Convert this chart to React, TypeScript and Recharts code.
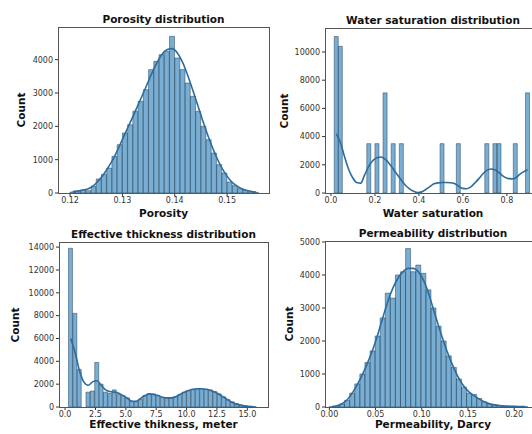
import { Bar, ComposedChart, Line, XAxis, YAxis } from 'recharts';

// porosity histogram (bin start, bin width, counts per bin, kde per bin centre)
const porosityStart = 0.12;
const porosityWidth = 0.001;
const porosityCounts = [30, 60, 90, 70, 200, 420, 560, 750, 1100, 1450, 1800, 2050, 2450, 2750, 3100, 3700, 3950, 4150, 4250, 4700, 4050, 3700, 3300, 2900, 2450, 2000, 1600, 1200, 850, 600, 330, 220, 130, 80, 40, 20];
const porosityKde = [40, 60, 90, 130, 220, 380, 580, 820, 1100, 1430, 1780, 2120, 2470, 2820, 3180, 3550, 3880, 4150, 4300, 4330, 4200, 3920, 3520, 3060, 2580, 2100, 1650, 1250, 900, 620, 400, 250, 150, 90, 50, 25];
const porosityTicks = [0.12, 0.13, 0.14, 0.15];

// water saturation
const satStart = 0.015;
const satWidth = 0.0185;
const satCounts = [11100, 10400, 0, 0, 0, 0, 0, 0, 3500, 0, 3500, 0, 7100, 0, 3500, 0, 3500, 0, 0, 0, 0, 0, 0, 0, 0, 0, 3500, 0, 0, 0, 3500, 0, 0, 0, 0, 0, 0, 3500, 0, 3500, 3500, 0, 0, 0, 3500, 0, 0, 7100];
const satKde = [4200, 3600, 2600, 1700, 1100, 750, 700, 1300, 1900, 2300, 2500, 2550, 2400, 2100, 1700, 1300, 900, 550, 300, 120, 30, 80, 250, 450, 650, 720, 740, 740, 730, 680, 500, 330, 300, 420, 700, 1000, 1350, 1600, 1700, 1650, 1450, 1200, 1050, 1000, 1050, 1300, 1500, 1650];
const satTicks = [0, 0.2, 0.4, 0.6, 0.8];

// effective thickness
const thickStart = 0.28;
const thickWidth = 0.36;
const thickCounts = [13900, 8200, 3300, 0, 1300, 1400, 3900, 2000, 1300, 1200, 1500, 1100, 1000, 800, 500, 450, 700, 1000, 1150, 1150, 1000, 850, 800, 750, 900, 1100, 1300, 1450, 1550, 1600, 1600, 1550, 1500, 1350, 1150, 900, 650, 450, 300, 180, 100, 60, 30];
const thickKde = [6000, 4800, 3200, 2200, 1900, 2200, 2300, 1900, 1500, 1350, 1300, 1200, 1000, 750, 500, 500, 750, 1000, 1150, 1100, 1000, 850, 800, 800, 900, 1100, 1300, 1450, 1550, 1600, 1600, 1550, 1450, 1300, 1100, 850, 600, 400, 250, 150, 80, 40, 20];
const thickTicks = [0, 2.5, 5, 7.5, 10, 12.5, 15];

// permeability
const permStart = 0;
const permWidth = 0.0055;
const permCounts = [10, 30, 90, 200, 420, 700, 1000, 1350, 1700, 2150, 2700, 3450, 3300, 4000, 4100, 4800, 4100, 4300, 4050, 3550, 3000, 2450, 2000, 1550, 1200, 850, 600, 420, 380, 260, 150, 90, 60, 45, 35, 25, 20, 15, 10];
const permKde = [15, 40, 100, 220, 420, 680, 980, 1330, 1720, 2180, 2700, 3200, 3600, 3900, 4100, 4200, 4200, 4100, 3850, 3450, 2950, 2450, 1980, 1550, 1180, 860, 620, 450, 340, 240, 160, 100, 65, 45, 32, 24, 18, 13, 10];
const permTicks = [0, 0.05, 0.1, 0.15, 0.2];

const buildRows = (start: number, width: number, counts: number[], kde: number[]) =>
  counts.map((c, i) => ({ x: start + width * (i + 0.5), count: c, kde: kde[i] }));

const FONT = '"DejaVu Sans", sans-serif';

type PanelProps = {
  box: [number, number, number, number];
  plot: [number, number, number, number];
  rows: { x: number; count: number; kde: number }[];
  xDomain: [number, number];
  xTicks: number[];
  digits: number;
  yMax: number;
  yTicks: number[];
  title: string;
  xLabel: string;
  xLabelY: number;
  yLabelX: number;
};

function Panel(p: PanelProps) {
  const [bx, by, bw, bh] = p.box;
  const [l, t, r, b] = p.plot;
  const margin = { left: 0, top: t - by, right: bx + bw - r, bottom: 0 };
  const cx = (l + r) / 2;
  return (
    <>
      <div style={{ position: 'absolute', left: bx, top: by }}>
        <ComposedChart width={bw} height={bh} data={p.rows} margin={margin} barCategoryGap={0} barGap={0}>
          <XAxis
            type="number"
            dataKey="x"
            domain={p.xDomain}
            ticks={p.xTicks}
            interval={0}
            allowDataOverflow
            height={by + bh - b}
            axisLine={false}
            tickLine={{ stroke: '#333' }}
            tickSize={3}
            tickMargin={1}
            tick={{ fontSize: 8, fill: '#333', fontFamily: FONT }}
            tickFormatter={(v: number) => v.toFixed(p.digits)}
          />
          <YAxis
            type="number"
            domain={[0, p.yMax]}
            ticks={p.yTicks}
            interval={0}
            allowDataOverflow
            width={l - bx}
            axisLine={false}
            tickLine={{ stroke: '#333' }}
            tickSize={3}
            tickMargin={2}
            tick={{ fontSize: 8, fill: '#333', fontFamily: FONT }}
          />
          <Bar dataKey="count" fill="#1f77b4" fillOpacity={0.6} stroke="#22405a" strokeWidth={0.5} isAnimationActive={false} />
          <Line dataKey="kde" type="monotone" stroke="#2b6c9f" strokeWidth={1.6} dot={false} isAnimationActive={false} />
        </ComposedChart>
      </div>
      <div
        style={{
          position: 'absolute',
          left: l,
          top: t,
          width: r - l + 1,
          height: b - t + 1,
          border: '1px solid #555',
          boxSizing: 'border-box',
          pointerEvents: 'none',
        }}
      />
      <div style={{ ...labelStyle, left: cx, top: t - 8 }}>{p.title}</div>
      <div style={{ ...labelStyle, left: cx, top: p.xLabelY }}>{p.xLabel}</div>
      <div style={{ ...labelStyle, left: p.yLabelX, top: (t + b) / 2, transform: 'translate(-50%, -50%) rotate(-90deg)' }}>Count</div>
    </>
  );
}

const labelStyle: React.CSSProperties = {
  position: 'absolute',
  transform: 'translate(-50%, -50%)',
  whiteSpace: 'nowrap',
  fontFamily: FONT,
  fontWeight: 'bold',
  fontSize: 10.5,
  color: '#111',
  lineHeight: 1,
};

export default function App() {
  return (
    <div style={{ position: 'absolute', left: 0, top: 0, width: 532, height: 434, overflow: 'hidden', background: '#fff' }}>
      <Panel
        box={[0, 0, 270, 217]}
        plot={[58, 27, 269, 193]}
        rows={buildRows(porosityStart, porosityWidth, porosityCounts, porosityKde)}
        xDomain={[0.1177, 0.158]}
        xTicks={porosityTicks}
        digits={2}
        yMax={4980}
        yTicks={[0, 1000, 2000, 3000, 4000]}
        title="Porosity distribution"
        xLabel="Porosity"
        xLabelY={213}
        yLabelX={21}
      />
      <Panel
        box={[270, 0, 275, 217]}
        plot={[325, 28, 541, 193]}
        rows={buildRows(satStart, satWidth, satCounts, satKde)}
        xDomain={[-0.027, 0.955]}
        xTicks={satTicks}
        digits={1}
        yMax={11700}
        yTicks={[0, 2000, 4000, 6000, 8000, 10000]}
        title="Water saturation distribution"
        xLabel="Water saturation"
        xLabelY={213}
        yLabelX={284}
      />
      <Panel
        box={[0, 217, 270, 217]}
        plot={[59, 242, 268, 407]}
        rows={buildRows(thickStart, thickWidth, thickCounts, thickKde)}
        xDomain={[-0.5, 16.7]}
        xTicks={thickTicks}
        digits={1}
        yMax={14450}
        yTicks={[0, 2000, 4000, 6000, 8000, 10000, 12000, 14000]}
        title="Effective thickness distribution"
        xLabel="Effective thikness, meter"
        xLabelY={424}
        yLabelX={15}
      />
      <Panel
        box={[270, 217, 275, 217]}
        plot={[325, 241, 541, 407]}
        rows={buildRows(permStart, permWidth, permCounts, permKde)}
        xDomain={[-0.0047, 0.229]}
        xTicks={permTicks}
        digits={2}
        yMax={5030}
        yTicks={[0, 1000, 2000, 3000, 4000, 5000]}
        title="Permeability distribution"
        xLabel="Permeability, Darcy"
        xLabelY={424}
        yLabelX={289}
      />
    </div>
  );
}
